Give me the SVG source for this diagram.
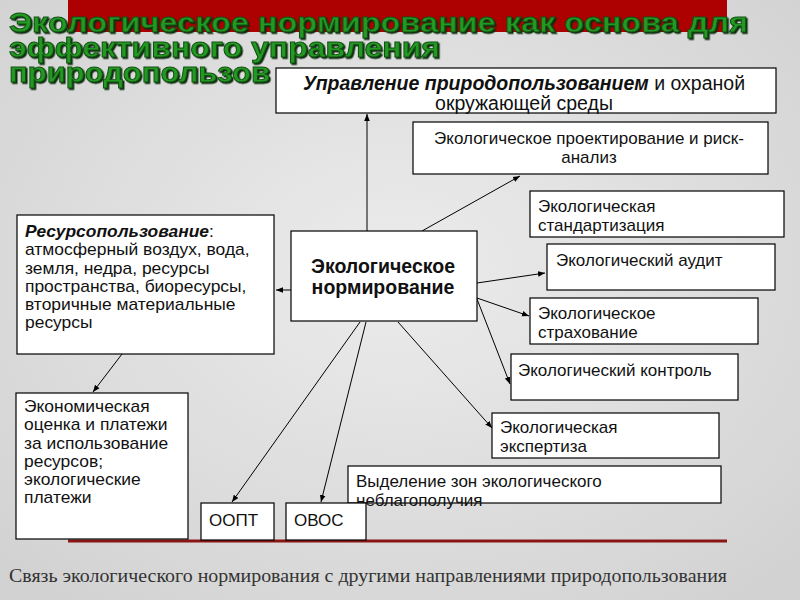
<svg xmlns="http://www.w3.org/2000/svg" width="800" height="600" viewBox="0 0 800 600">
<defs>
<radialGradient id="bg" cx="50%" cy="45%" r="70%">
<stop offset="0" stop-color="#ececec"/>
<stop offset="1" stop-color="#d2d2d2"/>
</radialGradient>
<filter id="sh" x="-5%" y="-20%" width="110%" height="140%">
<feDropShadow dx="1.5" dy="1.5" stdDeviation="0.6" flood-color="#0b2a0b" flood-opacity="1"/>
</filter>
<marker id="ah" viewBox="0 0 10 10" refX="10" refY="5" markerWidth="7" markerHeight="7" orient="auto" markerUnits="userSpaceOnUse">
<path d="M0,1 L10,5 L0,9 Z" fill="#000"/>
</marker>
<style>
.box{fill:#fff;stroke:#000;stroke-width:1.2}
.t{font-family:"Liberation Sans",Arial,sans-serif;font-size:17px;fill:#111}
.ts{font-family:"Liberation Sans",Arial,sans-serif;font-size:16px;fill:#111}
.tb{font-family:"Liberation Sans",Arial,sans-serif;font-size:19.5px;font-weight:bold;fill:#111}
.title{font-family:"Liberation Sans",Arial,sans-serif;font-size:27px;font-weight:bold;fill:#239a23;stroke:#145014;stroke-width:0.9}
.cap{font-family:"Liberation Serif","Times New Roman",serif;font-size:18px;fill:#333}
.con line{stroke:#000;stroke-width:1;marker-end:url(#ah)}
</style>
</defs>
<rect x="0" y="0" width="800" height="600" fill="url(#bg)"/>
<rect x="68" y="0" width="659" height="32" fill="#ad0000"/>
<g id="title" filter="url(#sh)">
<text class="title" x="9" y="32" textLength="739" lengthAdjust="spacingAndGlyphs">Экологическое нормирование как основа для</text>
<text class="title" x="9" y="57" textLength="431" lengthAdjust="spacingAndGlyphs">эффективного управления</text>
<text class="title" x="9" y="82" textLength="261" lengthAdjust="spacingAndGlyphs">природопользов</text>
</g>
<line x1="68" y1="541" x2="727" y2="541" stroke="#8a1515" stroke-width="3"/>
<text class="cap" x="9" y="582" textLength="718" lengthAdjust="spacingAndGlyphs">Связь экологического нормирования с другими направлениями природопользования</text>

<g class="con">
<line x1="367" y1="231" x2="367" y2="114"/>
<line x1="422" y1="231" x2="520" y2="176"/>
<line x1="291" y1="290" x2="276" y2="290"/>
<line x1="477" y1="283" x2="545" y2="273"/>
<line x1="477" y1="298" x2="529" y2="316"/>
<line x1="477" y1="299" x2="510" y2="384"/>
<line x1="398" y1="322" x2="492" y2="428"/>
<line x1="360" y1="322" x2="232" y2="502"/>
<line x1="366" y1="322" x2="321" y2="502"/>
<line x1="122" y1="354" x2="93" y2="392"/>
</g>

<g id="n-upravlenie">
<rect class="box" x="276" y="68" width="500" height="45"/>
<text class="t" x="524" y="90" text-anchor="middle" style="font-size:19.5px"><tspan font-weight="bold" font-style="italic">Управление природопользованием</tspan> и охраной</text>
<text class="t" x="524" y="110" text-anchor="middle" style="font-size:19.5px">окружающей среды</text>
</g>
<g id="n-proekt">
<rect class="box" x="413" y="122" width="355" height="52"/>
<text class="t" x="589" y="144" text-anchor="middle">Экологическое проектирование и риск-</text>
<text class="t" x="589" y="163" text-anchor="middle">анализ</text>
</g>
<g id="n-standart">
<rect class="box" x="530" y="191" width="254" height="46"/>
<text class="t" x="538" y="212">Экологическая</text>
<text class="t" x="538" y="231">стандартизация</text>
</g>
<g id="n-audit">
<rect class="box" x="547" y="244" width="228" height="46"/>
<text class="t" x="556" y="266">Экологический аудит</text>
</g>
<g id="n-strah">
<rect class="box" x="530" y="298" width="228" height="46"/>
<text class="t" x="538" y="319">Экологическое</text>
<text class="t" x="538" y="338">страхование</text>
</g>
<g id="n-kontrol">
<rect class="box" x="511" y="354" width="227" height="46"/>
<text class="t" x="518" y="376">Экологический контроль</text>
</g>
<g id="n-ekspert">
<rect class="box" x="492" y="413" width="227" height="45"/>
<text class="t" x="500" y="433">Экологическая</text>
<text class="t" x="500" y="452">экспертиза</text>
</g>
<g id="n-zony">
<rect class="box" x="348" y="466" width="373" height="37"/>
<text class="t" x="356" y="487">Выделение зон экологического</text>
<text class="t" x="356" y="506">неблагополучия</text>
</g>
<g id="n-oopt">
<rect class="box" x="201" y="503" width="73" height="37"/>
<text class="t" x="209" y="526">ООПТ</text>
</g>
<g id="n-ovos">
<rect class="box" x="286" y="503" width="80" height="37"/>
<text class="t" x="294" y="526">ОВОС</text>
</g>
<g id="n-norm">
<rect class="box" x="291" y="231" width="186" height="90"/>
<text class="tb" x="383" y="273" text-anchor="middle">Экологическое</text>
<text class="tb" x="383" y="294" text-anchor="middle">нормирование</text>
</g>
<g id="n-resurs">
<rect class="box" x="17" y="215" width="257" height="139"/>
<g transform="translate(25,0) scale(1.09,1)">
<text class="ts" x="0" y="237"><tspan font-weight="bold" font-style="italic">Ресурсопользование</tspan>:</text>
<text class="ts" x="0" y="255.3">атмосферный воздух, вода,</text>
<text class="ts" x="0" y="273.6">земля, недра, ресурсы</text>
<text class="ts" x="0" y="291.9">пространства, биоресурсы,</text>
<text class="ts" x="0" y="310.2">вторичные материальные</text>
<text class="ts" x="0" y="328.5">ресурсы</text>
</g>
</g>
<g id="n-ekonom">
<rect class="box" x="16" y="393" width="172" height="146"/>
<g transform="translate(24,0) scale(1.09,1)">
<text class="ts" x="0" y="412">Экономическая</text>
<text class="ts" x="0" y="430.3">оценка и платежи</text>
<text class="ts" x="0" y="448.6">за использование</text>
<text class="ts" x="0" y="466.9">ресурсов;</text>
<text class="ts" x="0" y="485.2">экологические</text>
<text class="ts" x="0" y="503.5">платежи</text>
</g>
</g>
</svg>
